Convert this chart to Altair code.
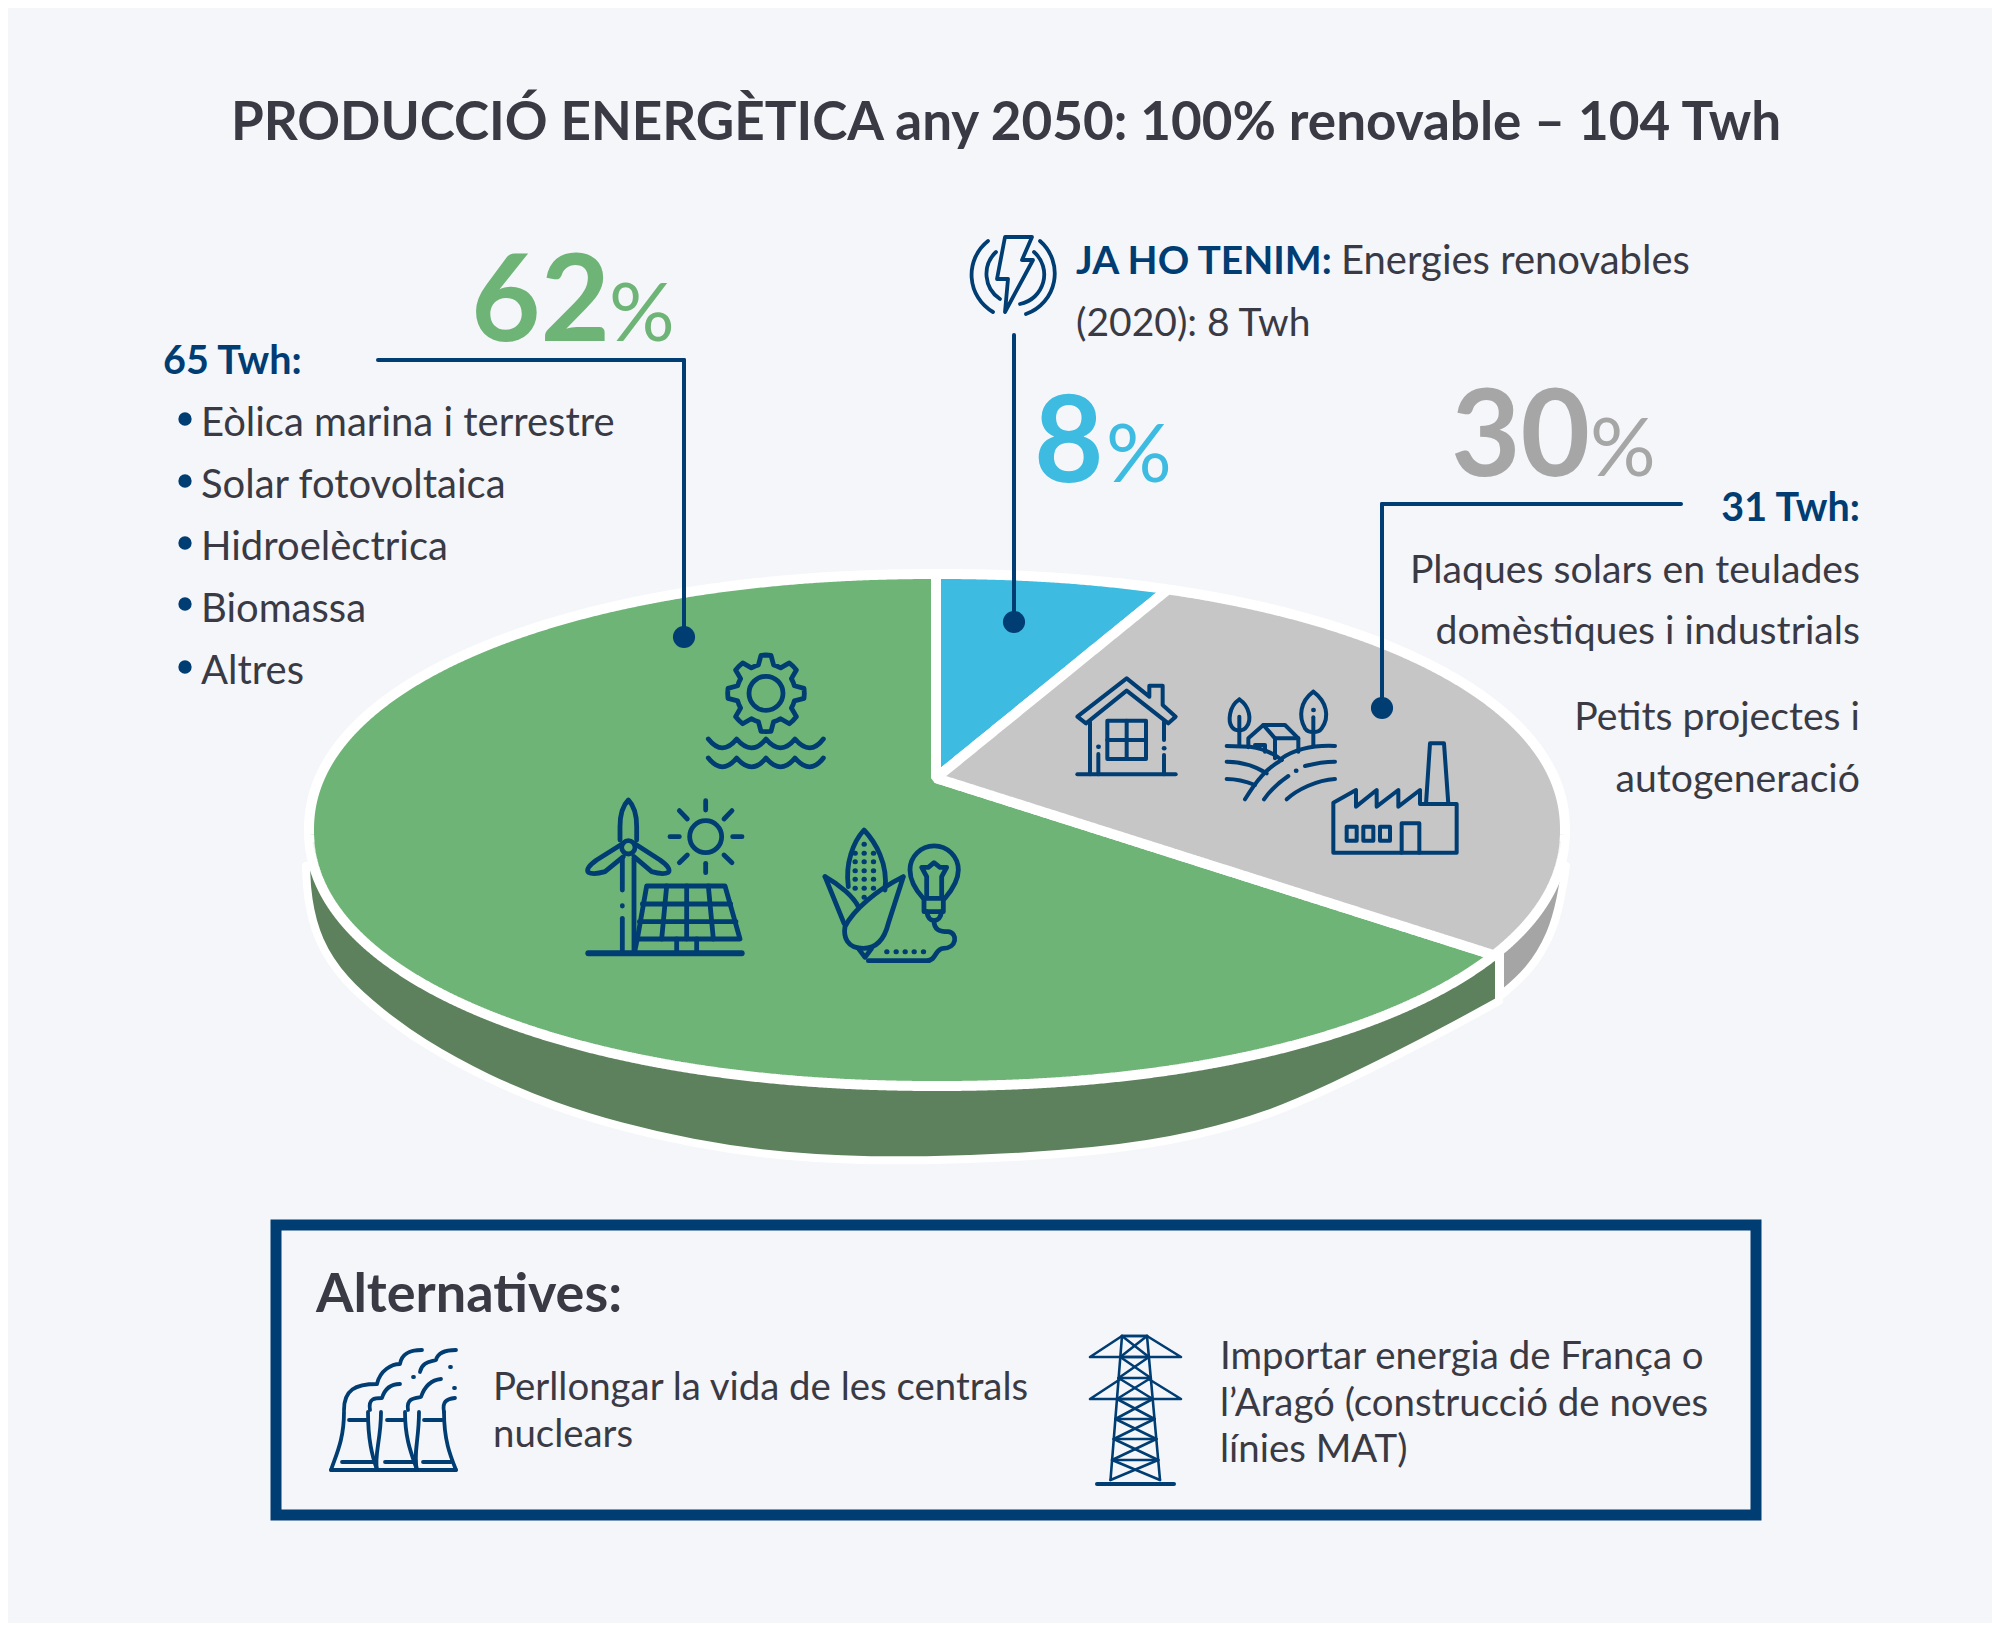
import math
import numpy as np
import pandas as pd
import altair as alt

W, H = 2000, 1631
BG = "#f4f6fa"
NAVY = "#003d73"
INK = "#3a3a44"
GREEN = "#6eb476"
BLUE = "#3dbbe0"
GREY = "#c6c6c6"
GREY_T = "#a6a6a6"
WALL_G = "#5d815d"
WALL_S = "#a5a5a5"
FONT = "Lato"

# --- values
shares = [8, 30, 62]
slice_edges_x = [936, 1168, 1494]   # where the slice borders meet the rim
disc = dict(cx=937, cy=830, rx=628, ry=256, n=2.1)
apex = (936, 778)
wall_x = [306, 307, 317, 344, 380, 420, 487, 555, 621, 690, 777, 918, 1109, 1200, 1267, 1333, 1400, 1450, 1499]
wall_y = [866, 897, 941, 981, 1012, 1042, 1079, 1107, 1127, 1143, 1157, 1163, 1152, 1135, 1116, 1087, 1054, 1028, 1001]
wall2_x = [1500, 1530, 1552, 1561, 1566]
wall2_y = [996, 971, 934, 899, 866]

# --- text
title = ["PRODUCCIÓ ENERGÈTICA any 2050: 100% renovable – 104 Twh"]
left_items = ["Eòlica marina i terrestre", "Solar fotovoltaica", "Hidroelèctrica", "Biomassa", "Altres"]
left_y = [436, 498, 560, 622, 684]
right_lines = ["Plaques solars en teulades", "domèstiques i industrials", "Petits projectes i", "autogeneració"]
right_y = [583, 644, 730, 792]

x_scale = alt.Scale(domain=[8, W - 8], range=[0, W - 16], nice=False, zero=False)
y_scale = alt.Scale(domain=[8, H - 8], range=[0, H - 16], nice=False, zero=False)
X = lambda f="x": alt.X(f"{f}:Q", scale=x_scale, axis=None)
Y = lambda f="y": alt.Y(f"{f}:Q", scale=y_scale, axis=None)


def xs(a, b):
    t = np.linspace(-math.pi / 2, math.pi / 2, 900)
    v = disc["cx"] + disc["rx"] * np.sin(t)
    v = v[(v > a) & (v < b)]
    return np.concatenate([[a], v, [b]])


def half(x):
    r = np.clip(np.abs((np.asarray(x, float) - disc["cx"]) / disc["rx"]), 0, 1)
    return disc["ry"] * (1 - r ** disc["n"]) ** (1 / disc["n"])


e_top = lambda x: disc["cy"] - half(x)
e_bot = lambda x: disc["cy"] + half(x)

ax, ay = apex
p1 = (slice_edges_x[1], float(e_top(slice_edges_x[1])))
p2 = (slice_edges_x[2], float(e_bot(slice_edges_x[2])))
line = lambda x, p: ay + (x - ax) * (p[1] - ay) / (p[0] - ax)

xb = xs(ax, p1[0])
blue = pd.DataFrame(dict(x=xb, y=e_top(xb), y2=line(xb, p1)))
xg = xs(ax, disc["cx"] + disc["rx"])
grey = pd.DataFrame(dict(x=xg,
                         y=np.where(xg < p1[0], line(xg, p1), e_top(xg)),
                         y2=np.where(xg < p2[0], line(xg, p2), e_bot(xg))))
xl = xs(disc["cx"] - disc["rx"], ax - 0.01)
xr = xs(ax, p2[0])
green = pd.concat([
    pd.DataFrame(dict(x=xl, y=e_top(xl), y2=e_bot(xl))),
    pd.DataFrame(dict(x=xr, y=line(xr, p2), y2=e_bot(xr))),
])


def sector(df, color, sw=10):
    return alt.Chart(df).mark_area(color=color, stroke="#ffffff", strokeWidth=sw, strokeJoin="bevel", interpolate="linear").encode(
        x=X(), y=Y(), y2="y2:Q")


walls = pd.DataFrame(dict(x=wall_x, y2=wall_y, y=[866] * len(wall_x)))
walls2 = pd.DataFrame(dict(x=wall2_x, y2=wall2_y, y=[866] * len(wall2_x)))


def wall(df, color):
    return alt.Chart(df).mark_area(color=color, stroke="#ffffff", strokeWidth=8, strokeJoin="round", interpolate="basis").encode(
        x=X(), y=Y(), y2="y2:Q")


# --- icons: SVG glyphs, placed at an origin and scaled
gear = []
for k in range(48):
    a = math.radians(k * 7.5 - 90)
    ph = k % 6
    r = 115 if ph in (0, 1, 5) else 88
    gear.append(("M" if k == 0 else "L") + f"{618 + r * math.cos(a):.1f},{160 + r * math.sin(a):.1f}")
gear = "".join(gear) + "Z"


def wave(y):
    return f"M445,{y} Q487,{y+53} 530,{y} Q575,{y+53} 618,{y} Q662,{y+53} 705,{y} Q750,{y+53} 790,{y}"


green_paths = [
    gear,
    "M567,160 A51,51 0 1 1 669,160 A51,51 0 1 1 567,160Z",
    wave(297), wave(354),
    # turbine
    "M180,600 L180,560 C180,530 185,500 205,480 C225,500 230,530 230,560 L230,600",
    "M185,622 A20,20 0 1 1 225,622 A20,20 0 1 1 185,622Z",
    "M190,610 L110,660 Q75,685 85,697 Q100,705 135,695 L190,650",
    "M222,610 L300,660 Q335,685 325,697 Q310,705 275,695 L222,650",
    "M187,655 L187,750", "M187,797 L187,798", "M187,835 L187,932", "M222,655 L222,932",
    # sun
    "M389,590 A48,48 0 1 1 485,590 A48,48 0 1 1 389,590Z",
    "M437,482 L437,510", "M437,670 L437,698", "M330,590 L358,590", "M518,590 L546,590",
    "M358,512 L382,537", "M516,512 L492,537", "M358,668 L382,645", "M516,668 L492,645",
    # panel
    "M260,738 L495,738 L540,897 L232,897Z",
    "M247,792 L512,792", "M238,845 L528,845",
    "M320,738 L305,897", "M380,738 L380,897", "M445,738 L460,897",
    "M350,897 L350,935", "M410,897 L410,935", "M232,897 L224,935",
    # corn
    "M865,740 C855,670 880,605 912,570 C945,605 985,670 975,750",
    "M795,710 C840,735 880,770 895,800", "M795,710 L852,850",
    "M1030,710 C950,750 880,810 855,860 C850,890 860,925 910,925 C955,925 975,890 985,850 L1030,710",
    "M895,925 L915,952 L935,925",
    # bulb
    "M1090,775 C1062,745 1050,720 1050,690 A72,72 0 1 1 1195,690 C1195,720 1180,745 1155,775 L1090,775",
    "M1092,778 L1092,815 L1150,815 L1150,778",
    "M1100,815 Q1105,842 1122,842 Q1140,842 1145,815",
    "M1100,772 L1100,710 L1085,682 L1105,682 L1122,668 L1140,682 L1160,682 L1145,710 L1145,772",
    "M1122,842 C1122,870 1140,875 1165,875 C1195,880 1190,925 1150,925 C1125,925 1130,962 1100,962 L925,962",
]
green_heavy = ["M85,940 L545,940"]
green_dots = [f"M{x},{y} l1,0" for x in (885, 912, 940) for y in (640, 665, 692, 718, 745)] + [
    "M912,613 l1,0", "M912,772 l1,0"] + [f"M{x},935 l1,0" for x in (980, 1008, 1035, 1062, 1090)]

grey_paths = [
    # house
    "M52,170 L200,55 L268,110 L268,77 L308,77 L308,135 L347,170 L325,190 L200,92 L78,190Z",
    "M90,185 L90,343", "M115,282 L115,343", "M312,185 L312,240", "M312,285 L312,343",
    "M52,343 L347,343", "M142,182 L258,182 L258,297 L142,297Z", "M200,182 L200,297", "M142,240 L258,240",
    # farm
    "M538,118 C505,140 505,185 515,200 C525,215 550,215 560,200 C575,180 570,140 538,118",
    "M538,170 L538,255",
    "M760,95 C720,125 715,170 735,205 C745,220 775,220 785,205 C810,170 800,125 760,95",
    "M760,172 L760,255",
    "M565,262 L565,235 L610,195 L675,195 L715,235 L715,275", "M610,195 L645,235 L715,235",
    "M645,235 L645,295", "M585,255 L615,255 L615,275",
    "M500,258 L570,260 C610,265 640,280 665,300", "M665,295 C710,265 760,255 825,258",
    "M500,305 C545,305 585,318 620,340", "M735,318 C765,310 795,305 825,305",
    "M500,357 C525,357 555,363 585,375",
    "M555,418 C590,360 620,325 665,300", "M612,418 C635,385 660,365 685,348",
    "M680,418 C710,390 770,360 825,357",
    # factory
    "M820,578 L820,428 L888,390 L888,440 L950,390 L950,440 L1015,390 L1015,440 L1080,390 L1080,432 L1190,432 L1190,578Z",
    "M1098,432 L1110,250 L1152,250 L1165,432",
    "M860,500 L890,500 L890,542 L860,542Z", "M910,500 L940,500 L940,542 L910,542Z", "M960,500 L990,500 L990,542 L960,542Z",
    "M1025,578 L1025,490 L1078,490 L1078,578",
]
grey_dots = ["M115,260 l1,0", "M312,265 l1,0", "M760,150 l1,0", "M708,332 l1,0"]

bolt_paths = [
    "M1005,237 L1032,237 L1022,260 L1033,260 L1005,312 L1008,279 L997,279Z",
    "M988,241 A43,43 0 0 0 993,312", "M1040,241 A43,43 0 0 1 1026,314",
    "M996,252 A30,30 0 0 0 1000,299", "M1034,252 A30,30 0 0 1 1020,304",
]
nuclear_paths = [
    "M331,1470 L456,1470",
    "M344,1412 C344,1440 336,1455 331,1470", "M368,1412 C368,1440 372,1455 377,1470",
    "M381,1412 C381,1440 374,1455 377,1470", "M405,1412 C405,1440 412,1455 417,1470",
    "M419,1412 C419,1440 413,1455 417,1470", "M444,1412 C444,1440 450,1455 456,1470",
    "M349,1420 L367,1420", "M387,1420 L404,1420", "M424,1420 L442,1420",
    "M342,1462 L374,1462", "M385,1462 L413,1462", "M423,1462 L451,1462",
    "M344,1410 C344,1390 355,1384 377,1384 C380,1370 392,1364 400,1364 C402,1352 412,1350 422,1350",
    "M420,1372 C422,1362 430,1362 436,1360 C438,1352 446,1350 456,1350",
    "M370,1410 C368,1398 375,1398 382,1398 C385,1388 392,1384 400,1384",
    "M408,1410 C406,1398 415,1398 421,1397 C425,1385 432,1380 441,1379",
    "M444,1412 C442,1402 446,1399 455,1398",
    "M413,1377 l1,0", "M450,1367 l1,0", "M454,1388 l1,0",
]
rungs = [1336, 1357, 1378, 1399, 1419, 1439, 1460, 1480]


def leg(y):
    t = (y - 1336) / (1480 - 1336)
    return 1122 - 11.5 * t, 1147 + 13 * t


pylon_paths = [
    "M1122,1336 L1110.5,1480", "M1147,1336 L1160,1480",
    "M1122,1336 L1147,1336",
    "M1122,1336 L1090,1357 L1181,1357 L1147,1336",
    "M1122,1378 L1090,1399 L1181,1399 L1147,1378",
]
for a, b in zip(rungs[:-1], rungs[1:]):
    l0, r0 = leg(a)
    l1, r1 = leg(b)
    pylon_paths += [f"M{l0:.1f},{a} L{r0:.1f},{a}", f"M{l0:.1f},{a} L{r1:.1f},{b}", f"M{r0:.1f},{a} L{l1:.1f},{b}"]
pylon_base = ["M1097,1484 L1174,1484"]

S3 = (2 / 3) ** 2   # scale 1/3 (glyphs drawn on a 3x grid)
icons = []
for p in green_paths:
    icons.append(dict(x=560, y=640, path=p, size=S3, sw=4.8))
for p in green_heavy:
    icons.append(dict(x=560, y=640, path=p, size=S3, sw=6))
for p in green_dots:
    icons.append(dict(x=560, y=640, path=p, size=S3, sw=5))
for p in grey_paths:
    icons.append(dict(x=1060, y=660, path=p, size=S3, sw=4))
for p in grey_dots:
    icons.append(dict(x=1060, y=660, path=p, size=S3, sw=4.5))
for p in bolt_paths:
    icons.append(dict(x=0, y=0, path=p, size=4, sw=3.8))
for p in nuclear_paths:
    icons.append(dict(x=0, y=0, path=p, size=4, sw=3.8))
for p in pylon_paths:
    icons.append(dict(x=0, y=0, path=p, size=4, sw=2.6))
for p in pylon_base:
    icons.append(dict(x=0, y=0, path=p, size=4, sw=4))
icon_layer = alt.Chart(pd.DataFrame(icons)).mark_point(
    filled=False, strokeCap="round", strokeJoin="round", opacity=1, color=NAVY
).encode(x=X(), y=Y(),
         shape=alt.Shape("path:N", scale=None, legend=None),
         size=alt.Size("size:Q", scale=None, legend=None),
         strokeWidth=alt.StrokeWidth("sw:Q", scale=None, legend=None))


def text(rows, size, color, weight=400, align="left"):
    df = pd.DataFrame(rows, columns=["x", "y", "t"])
    return alt.Chart(df).mark_text(font=FONT, fontSize=size, color=color, fontWeight=weight, align=align,
                                   baseline="alphabetic").encode(x=X(), y=Y(), text="t:N")


texts = [
    text([(1006, 140, title[0])], 53, INK, 700, "center"),
    text([(471, 341, f"{shares[2]}")], 120, GREEN, 700),
    text([(609, 341, "%")], 82, GREEN, 400),
    text([(1034, 482, f"{shares[0]}")], 120, BLUE, 700),
    text([(1106, 482, "%")], 82, BLUE, 400),
    text([(1451, 476, f"{shares[1]}")], 120, GREY_T, 700),
    text([(1590, 476, "%")], 82, GREY_T, 400),
    text([(163, 374, "65 Twh:")], 39.5, NAVY, 700),
    text([(1860, 521, "31 Twh:")], 39.5, NAVY, 700, "right"),
    text([(201, y, s) for y, s in zip(left_y, left_items)], 40, INK),
    text([(1860, y, s) for y, s in zip(right_y, right_lines)], 39.2, INK, 400, "right"),
    text([(1076, 274, "JA HO TENIM:")], 39, NAVY, 700),
    text([(1341, 274, "Energies renovables")], 40, INK),
    text([(1076, 336, "(2020): 8 Twh")], 39, INK),
    text([(316, 1312, "Alternatives:")], 54, INK, 700),
    text([(493, 1400, "Perllongar la vida de les centrals"), (493, 1447, "nuclears"),
          (1220, 1369, "Importar energia de França o"), (1220, 1416, "l’Aragó (construcció de noves"),
          (1220, 1462, "línies MAT)")], 38.4, INK),
]

hr = pd.DataFrame(dict(x=[378, 1382], x2=[684, 1681], y=[360, 504]))
vr = pd.DataFrame(dict(x=[684, 1014, 1382], y=[360, 335, 504], y2=[637, 622, 708]))
leaders = [
    alt.Chart(hr).mark_rule(color=NAVY, strokeWidth=4, strokeCap="round").encode(x=X(), x2="x2:Q", y=Y()),
    alt.Chart(vr).mark_rule(color=NAVY, strokeWidth=4, strokeCap="round").encode(x=X(), y=Y(), y2="y2:Q"),
]
dots = alt.Chart(pd.DataFrame(dict(x=[684, 1014, 1382], y=[637, 622, 708]))).mark_circle(
    color=NAVY, size=490, opacity=1).encode(x=X(), y=Y())
bullets = alt.Chart(pd.DataFrame(dict(x=[185] * 5, y=[419, 481, 543, 604, 667]))).mark_circle(
    color=NAVY, size=177, opacity=1).encode(x=X(), y=Y())
box = alt.Chart(pd.DataFrame(dict(x=[276], x2=[1756], y=[1225], y2=[1515]))).mark_rect(
    fill=BG, stroke=NAVY, strokeWidth=11).encode(x=X(), x2="x2:Q", y=Y(), y2="y2:Q")

chart = alt.layer(
    wall(walls, WALL_G), wall(walls2, WALL_S),
    sector(green, GREEN), sector(blue, BLUE), sector(grey, GREY),
    box, *leaders, dots, bullets, icon_layer, *texts,
).properties(width=W - 16, height=H - 16, background=BG, padding=0,
             autosize=alt.AutoSizeParams(type="none")
).configure_view(stroke=None)

chart.save("out.html", embed_options={"renderer": "svg", "actions": False})
